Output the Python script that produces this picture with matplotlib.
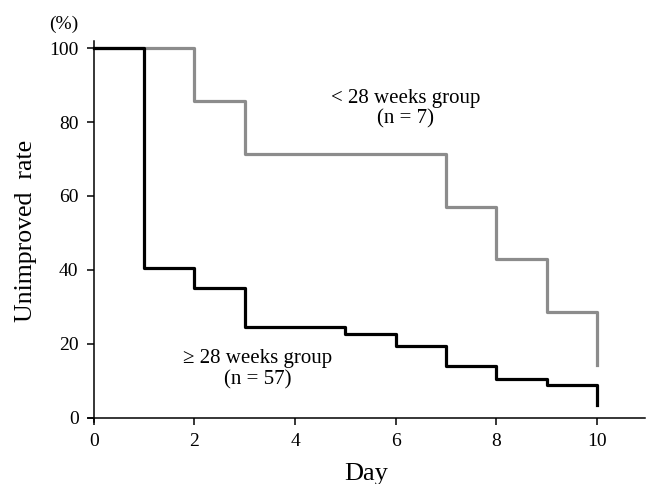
import matplotlib
matplotlib.use('Agg')
import matplotlib.pyplot as plt

plt.rcParams['font.family'] = ['Liberation Serif', 'DejaVu Serif']

# 日数と未改善率 (%)
days_lt28 = [0, 2, 3, 7, 8, 9, 10]
rate_lt28 = [100, 85.7, 71.4, 57.1, 42.9, 28.6, 14.3]

days_ge28 = [0, 1, 2, 3, 5, 6, 7, 8, 9, 10]
rate_ge28 = [100, 40.4, 35.1, 24.6, 22.8, 19.3, 14.0, 10.5, 8.8, 3.5]

xticks = [0, 2, 4, 6, 8, 10]
yticks = [0, 20, 40, 60, 80, 100]

fig = plt.figure(figsize=(6.46, 4.84), dpi=100)
ax = fig.add_axes([0.136, 0.129, 0.862, 0.787])

ax.step(days_lt28, rate_lt28, where='post', color='#8c8c8c', linewidth=2.3, zorder=2)
ax.step(days_ge28, rate_ge28, where='post', color='black', linewidth=2.3, zorder=3)

ax.set_xlim(-0.12, 10.95)
ax.set_ylim(-1, 102)
ax.spines['left'].set_position(('data', 0))
ax.spines['bottom'].set_position(('data', 0))
ax.spines['top'].set_visible(False)
ax.spines['right'].set_visible(False)
for s in ('left', 'bottom'):
    ax.spines[s].set_linewidth(1.1)

ax.set_xticks(xticks)
ax.set_yticks(yticks)
ax.tick_params(direction='out', length=5, width=1.1, labelsize=14, pad=6)

ax.set_xlabel('Day', fontsize=19, labelpad=9)
ax.set_ylabel('Unimproved  rate', fontsize=18.5, labelpad=9)

fig.text(64 / 646, 1 - 24 / 484, '(%)', fontsize=14, ha='center', va='center')

ax.text(6.2, 83.6, '< 28 weeks group\n(n = 7)', fontsize=15, ha='center', va='center',
        linespacing=1.15)
ax.text(3.25, 13.2, '\u2265 28 weeks group\n(n = 57)', fontsize=15, ha='center', va='center',
        linespacing=1.15)

fig.savefig('out.png', dpi=100)
